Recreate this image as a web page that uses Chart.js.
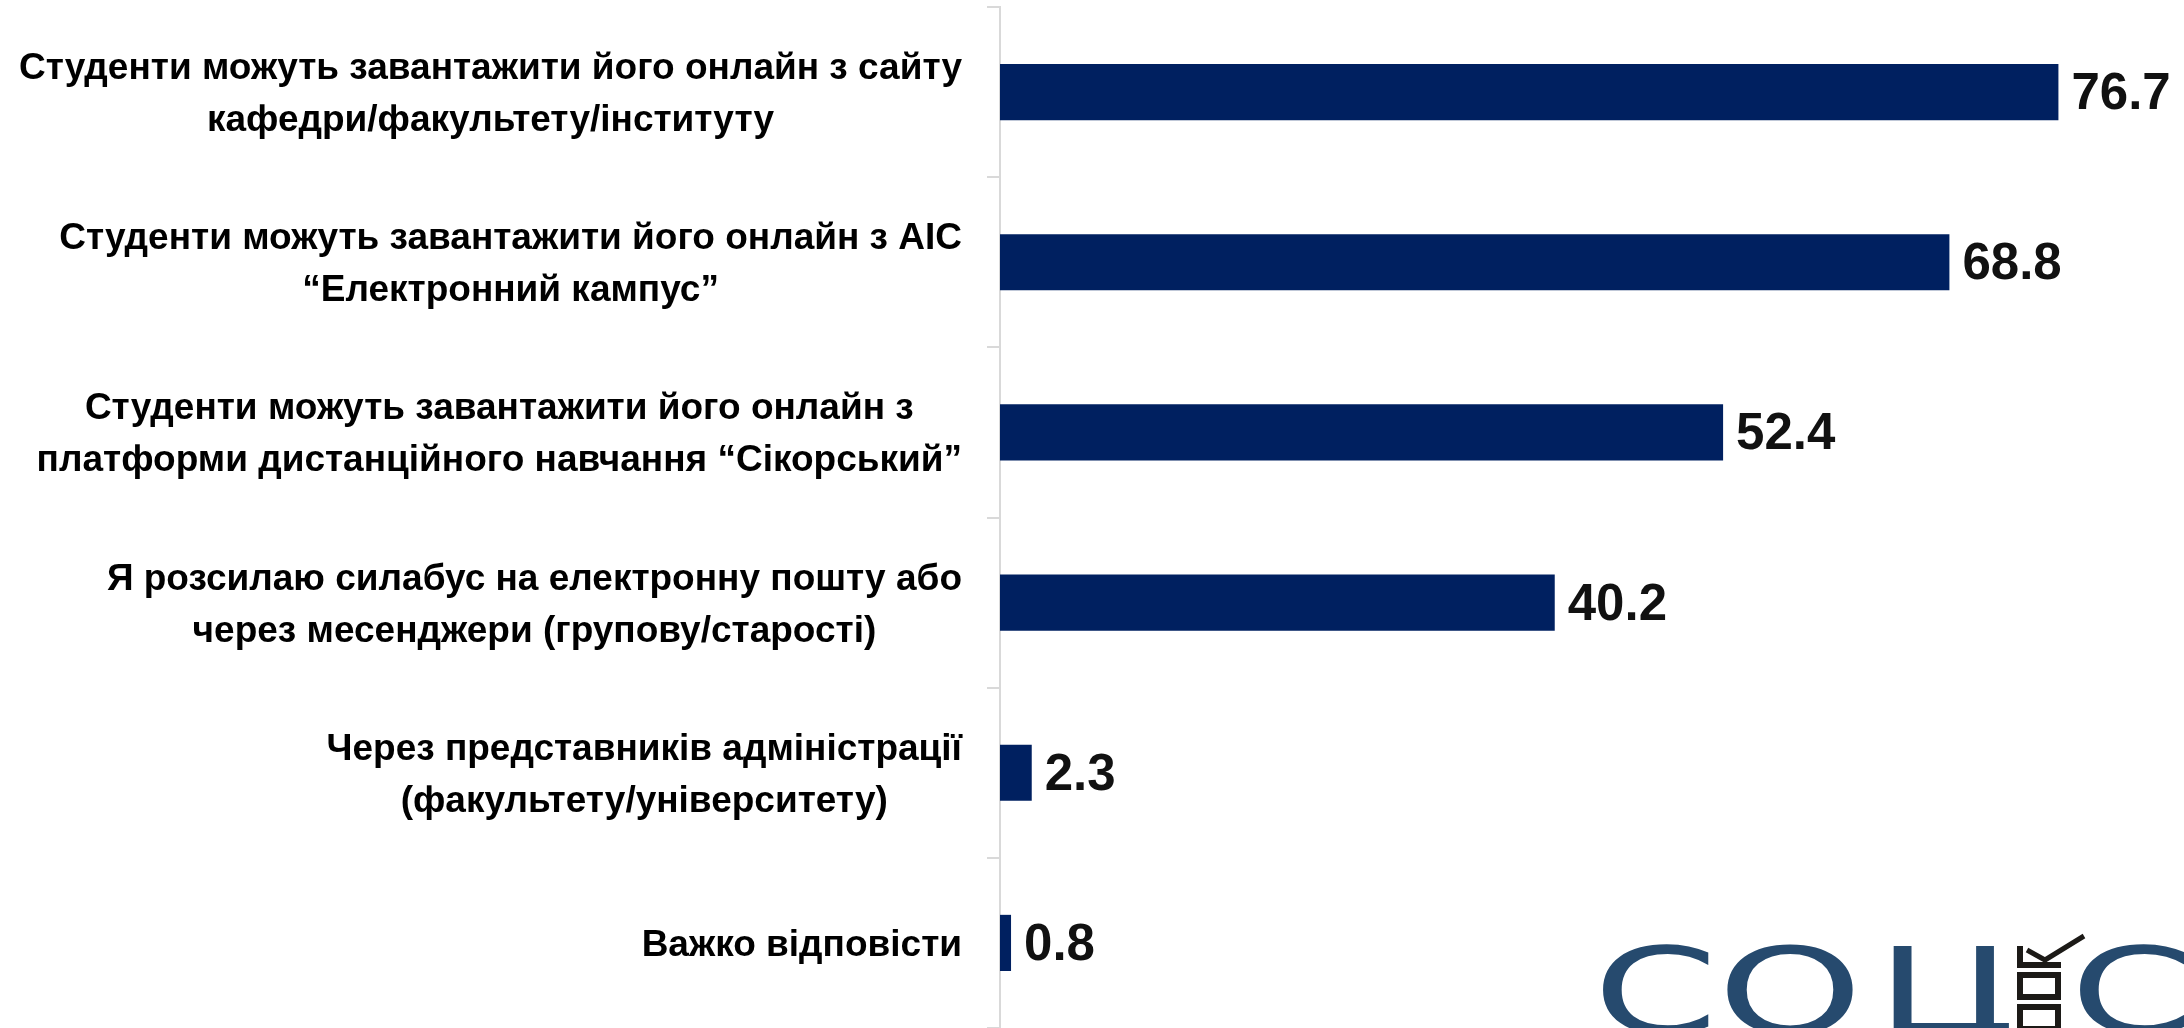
<!DOCTYPE html>
<html lang="uk">
<head>
  <meta charset="UTF-8" />
  <title>Як студенти отримують силабус</title>
  <script src="https://cdn.jsdelivr.net/npm/chart.js"></script>
  <style>
    html, body { margin: 0; padding: 0; background: #fff; }
    .chart-container { width: 2184px; height: 1028px; }
  </style>
</head>
<body>
  <div class="chart-container">
    <canvas id="syllabusChart"></canvas>
  </div>

  <script>
    const categories = [
      ['Студенти можуть завантажити його онлайн з сайту', 'кафедри/факультету/інституту'],
      ['Студенти можуть завантажити його онлайн з АІС', '“Електронний кампус”'],
      ['Студенти можуть завантажити його онлайн з', 'платформи дистанційного навчання “Сікорський”'],
      ['Я розсилаю силабус на електронну пошту або', 'через месенджери (групову/старості)'],
      ['Через представників адміністрації', '(факультету/університету)'],
      ['Важко відповісти']
    ];

    const values = [76.7, 68.8, 52.4, 40.2, 2.3, 0.8];

    const xMax = 85.8;

    const labelFont = "bold 37px 'Liberation Sans Narrow', 'Liberation Sans', sans-serif";
    const valueFont = "bold 51px 'Liberation Sans', sans-serif";

    // category labels: lines centred inside a block that is right-aligned to the axis
    const categoryLabels = {
      id: 'categoryLabels',
      afterDraw(chart) {
        const ctx = chart.ctx;
        const yScale = chart.scales.y;
        const right = yScale.right - 38;
        ctx.save();
        ctx.font = labelFont;
        ctx.fillStyle = '#000';
        ctx.textAlign = 'center';
        ctx.textBaseline = 'alphabetic';
        categories.forEach((lines, i) => {
          const cy = yScale.getPixelForValue(i);
          const widest = Math.max(...lines.map(l => ctx.measureText(l).width));
          const cx = right - widest / 2;
          lines.forEach((line, j) => {
            ctx.fillText(line, cx, cy + 13 + (j - (lines.length - 1) / 2) * 52);
          });
        });
        ctx.restore();
      }
    };

    // value labels just past the end of each bar
    const valueLabels = {
      id: 'valueLabels',
      afterDatasetsDraw(chart) {
        const ctx = chart.ctx;
        const meta = chart.getDatasetMeta(0);
        ctx.save();
        ctx.font = valueFont;
        ctx.fillStyle = '#111';
        ctx.textAlign = 'left';
        ctx.textBaseline = 'middle';
        meta.data.forEach((bar, i) => {
          ctx.fillText(values[i].toFixed(1), bar.x + 13, bar.y + 3);
        });
        ctx.restore();
      }
    };

    // СОЦІС logo in the bottom right corner (cut off by the edge)
    const logo = {
      id: 'logo',
      afterDraw(chart) {
        const ctx = chart.ctx;
        ctx.save();
        ctx.fillStyle = '#264a6e';
        ctx.font = "119px 'DejaVu Sans', sans-serif";
        ctx.textBaseline = 'alphabetic';
        const letters = [['С', 1593, 125], ['О', 1717, 146], ['Ц', 1876, 140], ['С', 2070, 125]];
        letters.forEach(([ch, x, w]) => {
          const m = ctx.measureText(ch).width;
          ctx.save();
          ctx.translate(x, 1033);
          ctx.scale(w / m, 1);
          ctx.fillText(ch, 0, 0);
          ctx.restore();
        });

        // ballot boxes with the tick
        ctx.strokeStyle = '#1c1a17';
        ctx.lineWidth = 6;
        ctx.beginPath();
        ctx.moveTo(2020, 946);
        ctx.lineTo(2020, 965);
        ctx.lineTo(2061, 965);
        ctx.stroke();
        ctx.strokeRect(2020, 975, 38, 22);
        ctx.strokeRect(2020, 1007, 38, 22);
        ctx.lineWidth = 5;
        ctx.beginPath();
        ctx.moveTo(2027, 950);
        ctx.lineTo(2045, 960);
        ctx.lineTo(2084, 936);
        ctx.stroke();
        ctx.restore();
      }
    };

    const config = {
      type: 'bar',
      data: {
        labels: categories,
        datasets: [{
          data: values,
          backgroundColor: '#002060',
          barPercentage: 0.33,
          categoryPercentage: 1
        }]
      },
      options: {
        indexAxis: 'y',
        responsive: true,
        maintainAspectRatio: false,
        animation: false,
        layout: { padding: { top: 7, right: 0, bottom: 0, left: 0 } },
        plugins: {
          legend: { display: false },
          tooltip: { enabled: false }
        },
        scales: {
          x: { display: false, min: 0, max: xMax },
          y: {
            afterFit: (scale) => { scale.width = 1000; },
            ticks: { display: false },
            grid: {
              offset: true,
              drawOnChartArea: false,
              drawTicks: true,
              tickLength: 13,
              color: '#d9d9d9',
              lineWidth: 2
            },
            border: { display: true, color: '#d9d9d9', width: 2 }
          }
        }
      },
      plugins: [categoryLabels, valueLabels, logo]
    };

    new Chart(document.getElementById('syllabusChart'), config);
  </script>
</body>
</html>
